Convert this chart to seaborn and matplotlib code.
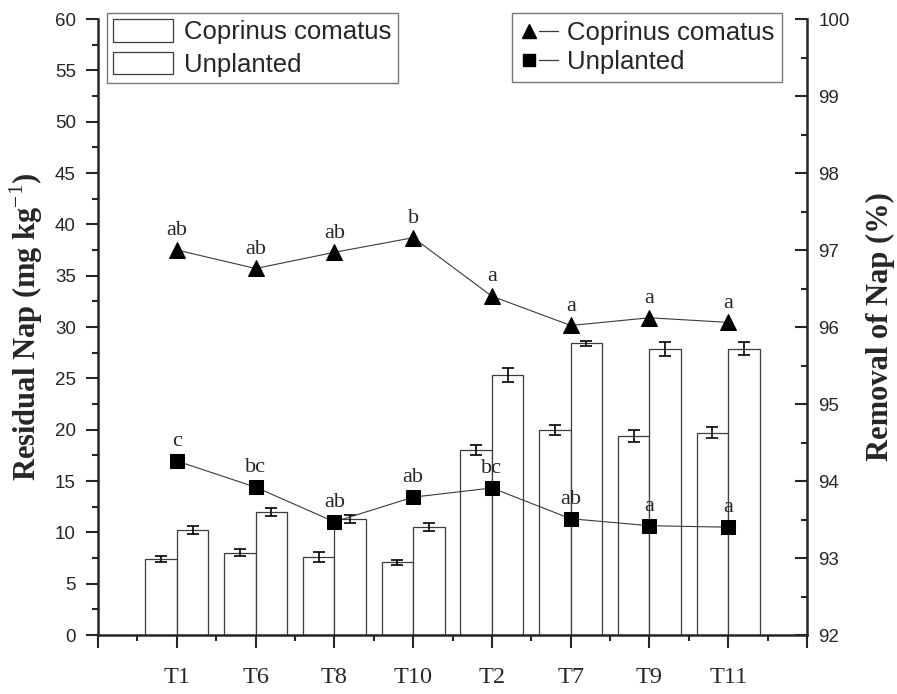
import numpy as np
import pandas as pd
import matplotlib
matplotlib.use("Agg")
import matplotlib.pyplot as plt
import seaborn as sns
from matplotlib.patches import Patch
from matplotlib.lines import Line2D
from matplotlib.legend_handler import HandlerTuple

# ---- data ----
treatments = ["T1", "T6", "T8", "T10", "T2", "T7", "T9", "T11"]
series_names = ["Coprinus comatus", "Unplanted"]

residual_coprinus = [7.4, 8.0, 7.6, 7.1, 18.0, 20.0, 19.4, 19.7]
residual_coprinus_err = [0.3, 0.35, 0.5, 0.25, 0.5, 0.5, 0.6, 0.55]
residual_unplanted = [10.2, 12.0, 11.3, 10.5, 25.3, 28.4, 27.85, 27.9]
residual_unplanted_err = [0.4, 0.4, 0.4, 0.4, 0.7, 0.25, 0.7, 0.65]

removal_coprinus = [97.0, 96.76, 96.97, 97.16, 96.40, 96.02, 96.12, 96.06]
removal_unplanted = [94.26, 93.92, 93.47, 93.79, 93.91, 93.51, 93.42, 93.40]
letters_coprinus = ["ab", "ab", "ab", "b", "a", "a", "a", "a"]
letters_unplanted = ["c", "bc", "ab", "ab", "bc", "ab", "a", "a"]

SANS = "Liberation Sans"
SERIF = "Liberation Serif"

sns.set_theme(style="ticks")
plt.rcParams["font.family"] = [SANS, "DejaVu Sans"]
plt.rcParams["axes.linewidth"] = 1.6
plt.rcParams["mathtext.fontset"] = "custom"
plt.rcParams["mathtext.rm"] = SERIF
plt.rcParams["mathtext.bf"] = SERIF + ":bold"

bars = pd.DataFrame({
    "Treatment": treatments * 2,
    "Series": [series_names[0]] * len(treatments) + [series_names[1]] * len(treatments),
    "Residual": residual_coprinus + residual_unplanted,
})
errs = [residual_coprinus_err, residual_unplanted_err]
bar_vals = [residual_coprinus, residual_unplanted]

fig = plt.figure(figsize=(8.97, 6.94), dpi=100)
ax = fig.add_axes([0.1093, 0.085, 0.7904, 0.8876])

sns.barplot(data=bars, x="Treatment", y="Residual", hue="Series",
            order=treatments, hue_order=series_names,
            palette=["white", "white"], edgecolor="#3c3c3c", linewidth=0.9,
            width=0.8, errorbar=None, legend=False, ax=ax)

# error bars on each bar, placed at the centre of the drawn rectangles
for container, vals, err in zip(ax.containers, bar_vals, errs):
    xc = [p.get_x() + p.get_width() / 2 for p in container.patches]
    ax.errorbar(xc, vals, yerr=err, fmt="none", ecolor="black",
                elinewidth=1.2, capsize=4.5, capthick=1.2, zorder=3)

ax.set_ylim(0, 60)
ax.set_xlim(-1, len(treatments))
ax.set_yticks(np.arange(0, 61, 5))
ax.set_yticks(np.arange(0, 61, 2.5), minor=True)
ax.set_xticks(np.arange(-1, len(treatments) + 1))
ax.set_xticklabels([""] + treatments + [""])
ax.set_xticks(np.arange(-0.5, len(treatments), 1.0), minor=True)
ax.tick_params(axis="y", which="major", direction="out", length=9, width=1.5,
               labelsize=13.5, pad=7)
ax.tick_params(axis="y", which="minor", direction="out", length=4.5, width=1.5)
ax.tick_params(axis="x", which="major", direction="out", length=9, width=1.5,
               labelsize=17.5, pad=14)
ax.tick_params(axis="x", which="minor", direction="out", length=4.5, width=1.5)
for lab in ax.get_xticklabels():
    lab.set_fontfamily(SERIF)
ax.set_xlabel("")
ax.set_ylabel("Residual Nap (mg kg$^{\\mathrm{-1}}$)", fontsize=22,
              fontweight="bold", fontfamily=SERIF, labelpad=7)
for s in ["top", "right"]:
    ax.spines[s].set_visible(False)
ax.spines["left"].set_linewidth(1.8)
ax.spines["bottom"].set_linewidth(1.8)

# removal percentages on the secondary axis
ax2 = ax.twinx()
positions = np.arange(len(treatments))
sns.lineplot(x=positions, y=removal_coprinus, ax=ax2, color="#3a3a3a",
             linewidth=0.8, marker="^", markersize=12, markerfacecolor="black",
             markeredgecolor="black", legend=False, zorder=4)
sns.lineplot(x=positions, y=removal_unplanted, ax=ax2, color="#3a3a3a",
             linewidth=0.8, marker="s", markersize=10, markerfacecolor="black",
             markeredgecolor="black", legend=False, zorder=4)

for xs, ys, labs in [(positions, removal_coprinus, letters_coprinus),
                     (positions, removal_unplanted, letters_unplanted)]:
    for x, y, t in zip(xs, ys, labs):
        ax2.annotate(t, (x, y), xytext=(0, 7), textcoords="offset points",
                     ha="center", va="bottom", fontsize=16, fontfamily=SERIF)

ax2.set_xlim(-1, len(treatments))
ax2.set_ylim(92, 100)
ax2.set_yticks(np.arange(92, 101, 1))
ax2.set_yticks(np.arange(92, 100.01, 0.5), minor=True)
ax2.tick_params(axis="y", which="major", direction="in", length=9, width=1.5,
                labelsize=13.5, pad=8)
ax2.tick_params(axis="y", which="minor", direction="in", length=4.5, width=1.5)
ax2.set_ylabel("Removal of Nap (%)", fontsize=22, fontweight="bold",
               fontfamily=SERIF, labelpad=12)
for s in ["top", "left", "bottom"]:
    ax2.spines[s].set_visible(False)
ax2.spines["right"].set_linewidth(1.8)

# legends
bar_handles = [Patch(facecolor="white", edgecolor="#3c3c3c", linewidth=0.9, label=n)
               for n in series_names]
leg1 = ax.legend(handles=bar_handles, loc="upper left",
                 bbox_to_anchor=(107 / 897, 1 - 13 / 694),
                 bbox_transform=fig.transFigure, fontsize=18.5, frameon=True,
                 fancybox=False, edgecolor="#555555", handlelength=2.3,
                 handleheight=0.95, labelspacing=0.3, borderaxespad=0,
                 borderpad=0.25, handletextpad=0.45)
leg1.get_frame().set_linewidth(1.0)

line_handles = []
for mk, ms in [("^", 10), ("s", 8)]:
    m = Line2D([], [], linestyle="none", marker=mk, markersize=ms, color="black")
    l = Line2D([], [], color="#3a3a3a", linewidth=0.9)
    line_handles.append((m, l))
leg2 = ax2.legend(handles=line_handles, labels=series_names, loc="upper right",
                  bbox_to_anchor=(782 / 897, 1 - 13 / 694),
                  bbox_transform=fig.transFigure, fontsize=18.5, frameon=True,
                  fancybox=False, edgecolor="#555555", handlelength=1.5,
                  labelspacing=0.2, borderaxespad=0, borderpad=0.3,
                  handletextpad=0.35,
                  handler_map={tuple: HandlerTuple(ndivide=None, pad=0)})
leg2.get_frame().set_linewidth(1.0)

fig.savefig("out.png", dpi=100)
